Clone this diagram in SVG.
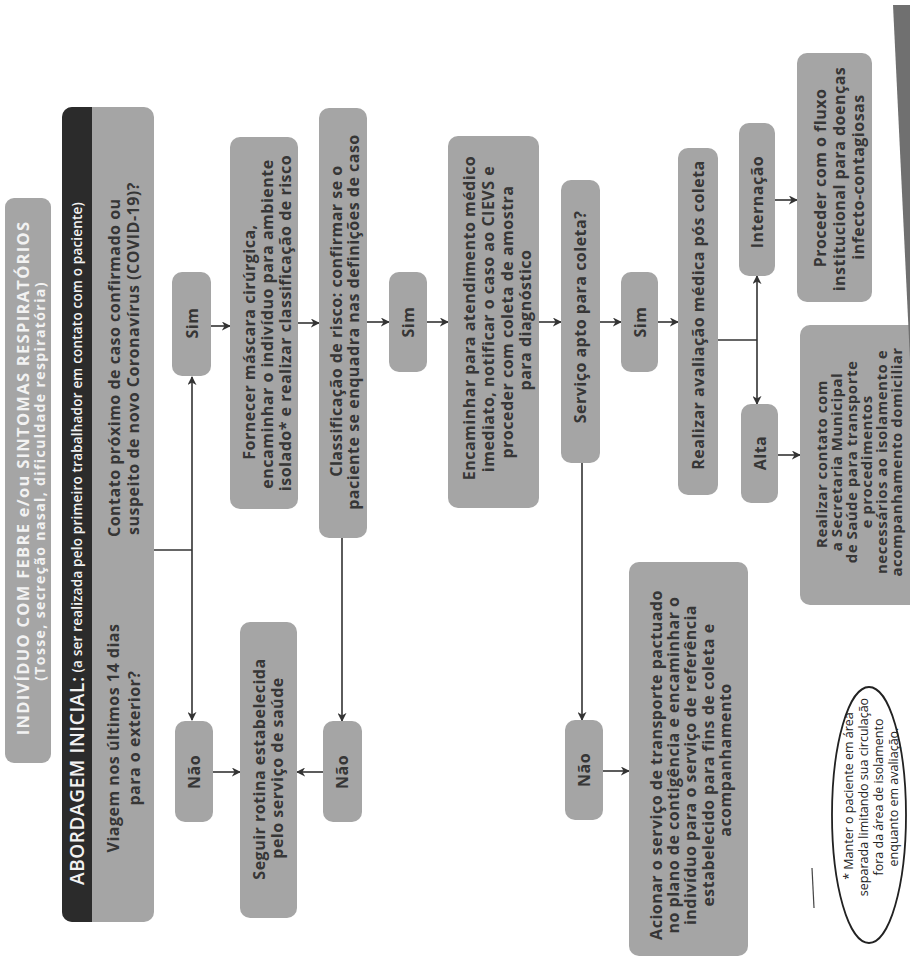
<svg xmlns="http://www.w3.org/2000/svg" width="910" height="969" viewBox="0 0 910 969">
<style>
.box{fill:#a5a5a5}
.t{font-family:"Open Sans","Liberation Sans",sans-serif;font-weight:700;font-size:16px;fill:#363636;text-anchor:middle;dominant-baseline:central;letter-spacing:0.5px}
.s{text-anchor:start}
.w{fill:#f2f2f2}
.sm{font-size:15px}
.c{stroke:#333;stroke-width:1.6;fill:none}
.a{marker-end:url(#ah)}
.note{font-family:"Open Sans","Liberation Sans",sans-serif;font-weight:400;font-size:12.5px;fill:#222;text-anchor:middle;dominant-baseline:central}
</style>
<defs>
<marker id="ah" viewBox="0 0 10 10" refX="9" refY="5" markerUnits="userSpaceOnUse" markerWidth="9" markerHeight="9" orient="auto">
<path d="M0,0 L10,5 L0,10 L3,5 z" fill="#333"/>
</marker>
<clipPath id="clipAb"><rect x="62" y="107" width="92" height="815" rx="10"/></clipPath>
</defs>
<rect width="910" height="969" fill="#fff"/>

<g id="connectors">
<path class="c" d="M153,550 H192"/>
<path class="c a" d="M192,550 V377"/>
<path class="c a" d="M192,550 V720"/>
<path class="c a" d="M211,326 H230"/>
<path class="c a" d="M298,323 H319"/>
<path class="c a" d="M342,538 V721"/>
<path class="c a" d="M367,322 H389"/>
<path class="c a" d="M427,322 H448"/>
<path class="c a" d="M539,322 H561"/>
<path class="c a" d="M582,463 V720"/>
<path class="c a" d="M600,322 H621"/>
<path class="c a" d="M658,322 H678"/>
<path class="c" d="M718,340 H757"/>
<path class="c a" d="M757,340 V276"/>
<path class="c a" d="M757,340 V404"/>
<path class="c a" d="M775,200 H797"/>
<path class="c a" d="M778,455 H800"/>
<path class="c a" d="M213,772 H240"/>
<path class="c a" d="M323,772 H297"/>
<path class="c a" d="M603,771 H629"/>
</g>

<g id="n-inicio">
<rect class="box" x="5" y="198" width="46" height="565" rx="9" fill="#9e9e9e"/>
<text class="t w" style="letter-spacing:1.3px;font-size:16.5px" transform="translate(22,478) rotate(-90)">INDIVÍDUO COM FEBRE e/ou SINTOMAS RESPIRATÓRIOS</text>
<text class="t w" style="font-size:14px;letter-spacing:1.4px" transform="translate(39,481) rotate(-90)">(Tosse, secreção nasal, dificuldade respiratória)</text>
</g>

<g id="n-abordagem">
<rect class="box" x="62" y="107" width="92" height="815" rx="10"/>
<rect x="62" y="107" width="30" height="815" fill="#2b2b2b" clip-path="url(#clipAb)"/>
<text class="t w s" style="font-size:19px;letter-spacing:0.6px;font-weight:600" transform="translate(77,885) rotate(-90)">ABORDAGEM INICIAL:<tspan style="font-size:13.5px;letter-spacing:0.2px"> (a ser realizada pelo primeiro trabalhador em contato com o paciente)</tspan></text>
<text class="t" transform="translate(113,738) rotate(-90)">Viagem nos últimos 14 dias</text>
<text class="t" transform="translate(134,738) rotate(-90)">para o exterior?</text>
<text class="t s" transform="translate(114,537) rotate(-90)">Contato próximo de caso confirmado ou</text>
<text class="t s" transform="translate(133,535) rotate(-90)">suspeito de novo Coronavírus (COVID-19)?</text>
</g>

<g id="n-sim1">
<rect class="box" x="172" y="272" width="39" height="104" rx="10"/>
<text class="t" transform="translate(192,323) rotate(-90)">Sim</text>
</g>

<g id="n-nao1">
<rect class="box" x="175" y="721" width="38" height="101" rx="10"/>
<text class="t" transform="translate(194,772) rotate(-90)">Não</text>
</g>

<g id="n-fornecer">
<rect class="box" x="230" y="137" width="68" height="372" rx="10"/>
<text class="t" transform="translate(249,342) rotate(-90)">Fornecer máscara cirúrgica,</text>
<text class="t" transform="translate(267,324) rotate(-90)">encaminhar o indivíduo para ambiente</text>
<text class="t" transform="translate(285,323) rotate(-90)">isolado* e realizar classificação de risco</text>
</g>

<g id="n-seguir">
<rect class="box" x="240" y="622" width="57" height="296" rx="10"/>
<text class="t" transform="translate(259,769) rotate(-90)">Seguir rotina estabelecida</text>
<text class="t" transform="translate(277,768) rotate(-90)">pelo serviço de saúde</text>
</g>

<g id="n-classificacao">
<rect class="box" x="319" y="108" width="48" height="430" rx="10"/>
<text class="t" transform="translate(336,321) rotate(-90)">Classificação de risco: confirmar se o</text>
<text class="t" transform="translate(353,322) rotate(-90)">paciente se enquadra nas definições de caso</text>
</g>

<g id="n-nao2">
<rect class="box" x="323" y="721" width="39" height="101" rx="10"/>
<text class="t" transform="translate(342,772) rotate(-90)">Não</text>
</g>

<g id="n-sim2">
<rect class="box" x="389" y="272" width="38" height="100" rx="10"/>
<text class="t" transform="translate(408,322) rotate(-90)">Sim</text>
</g>

<g id="n-encaminhar">
<rect class="box" x="448" y="136" width="91" height="372" rx="10"/>
<text class="t" transform="translate(469,318) rotate(-90)">Encaminhar para atendimento médico</text>
<text class="t" transform="translate(488,319) rotate(-90)">imediato, notificar o caso ao CIEVS e</text>
<text class="t" transform="translate(507,322) rotate(-90)">proceder com coleta de amostra</text>
<text class="t" transform="translate(525,320) rotate(-90)">para diagnóstico</text>
</g>

<g id="n-servico">
<rect class="box" x="561" y="180" width="39" height="283" rx="10"/>
<text class="t" transform="translate(580,317) rotate(-90)">Serviço apto para coleta?</text>
</g>

<g id="n-nao3">
<rect class="box" x="565" y="720" width="38" height="100" rx="10"/>
<text class="t" transform="translate(584,770) rotate(-90)">Não</text>
</g>

<g id="n-acionar">
<rect class="box" x="629" y="562" width="119" height="394" rx="10"/>
<text class="t" transform="translate(656,765) rotate(-90)">Acionar o serviço de transporte pactuado</text>
<text class="t" transform="translate(673,765) rotate(-90)">no plano de contigência e encaminhar o</text>
<text class="t" transform="translate(690,765) rotate(-90)">indivíduo para o serviço de referência</text>
<text class="t" transform="translate(708,765) rotate(-90)">estabelecido para fins de coleta e</text>
<text class="t" transform="translate(725,760) rotate(-90)">acompanhamento</text>
</g>

<g id="n-sim3">
<rect class="box" x="621" y="272" width="37" height="100" rx="10"/>
<text class="t" transform="translate(640,322) rotate(-90)">Sim</text>
</g>

<g id="n-avaliacao">
<rect class="box" x="678" y="148" width="40" height="347" rx="10"/>
<text class="t" transform="translate(698,315) rotate(-90)">Realizar avaliação médica pós coleta</text>
</g>

<g id="n-internacao">
<rect class="box" x="739" y="123" width="36" height="153" rx="10"/>
<text class="t" transform="translate(757,202) rotate(-90)">Internação</text>
</g>

<g id="n-alta">
<rect class="box" x="741" y="404" width="37" height="99" rx="10"/>
<text class="t" transform="translate(760,453) rotate(-90)">Alta</text>
</g>

<g id="n-proceder">
<rect class="box" x="797" y="53" width="75" height="249" rx="10"/>
<text class="t" transform="translate(820,178) rotate(-90)">Proceder com o fluxo</text>
<text class="t" transform="translate(839,179) rotate(-90)">institucional para doenças</text>
<text class="t" transform="translate(858,177) rotate(-90)">infecto-contagiosas</text>
</g>

<g id="n-contato">
<rect class="box" x="800" y="325" width="130" height="280" rx="10"/>
<text class="t sm" transform="translate(821,464) rotate(-90)">Realizar contato com</text>
<text class="t sm" transform="translate(836,462) rotate(-90)">a Secretaria Municipal</text>
<text class="t sm" transform="translate(851,462) rotate(-90)">de Saúde para transporte</text>
<text class="t sm" transform="translate(866,462) rotate(-90)">e procedimentos</text>
<text class="t sm" transform="translate(881,462) rotate(-90)">necessários ao isolamento e</text>
<text class="t sm" transform="translate(896,462) rotate(-90)">acompanhamento domiciliar</text>
</g>

<g id="wedge">
<polygon points="893,5 910,5 910,360" fill="#707070"/>
</g>

<g id="n-nota">
<ellipse cx="869" cy="815" rx="37" ry="128" fill="none" stroke="#222" stroke-width="1.8"/>
<path d="M812,868 L814,908" stroke="#444" stroke-width="1.2" fill="none"/>
<text class="note" transform="translate(848,796) rotate(-90)">* Manter o paciente em área</text>
<text class="note" transform="translate(863,797) rotate(-90)">separada limitando sua circulação</text>
<text class="note" transform="translate(878,797) rotate(-90)">fora da área de isolamento</text>
<text class="note" transform="translate(893,797) rotate(-90)">enquanto em avaliação.</text>
</g>
</svg>
